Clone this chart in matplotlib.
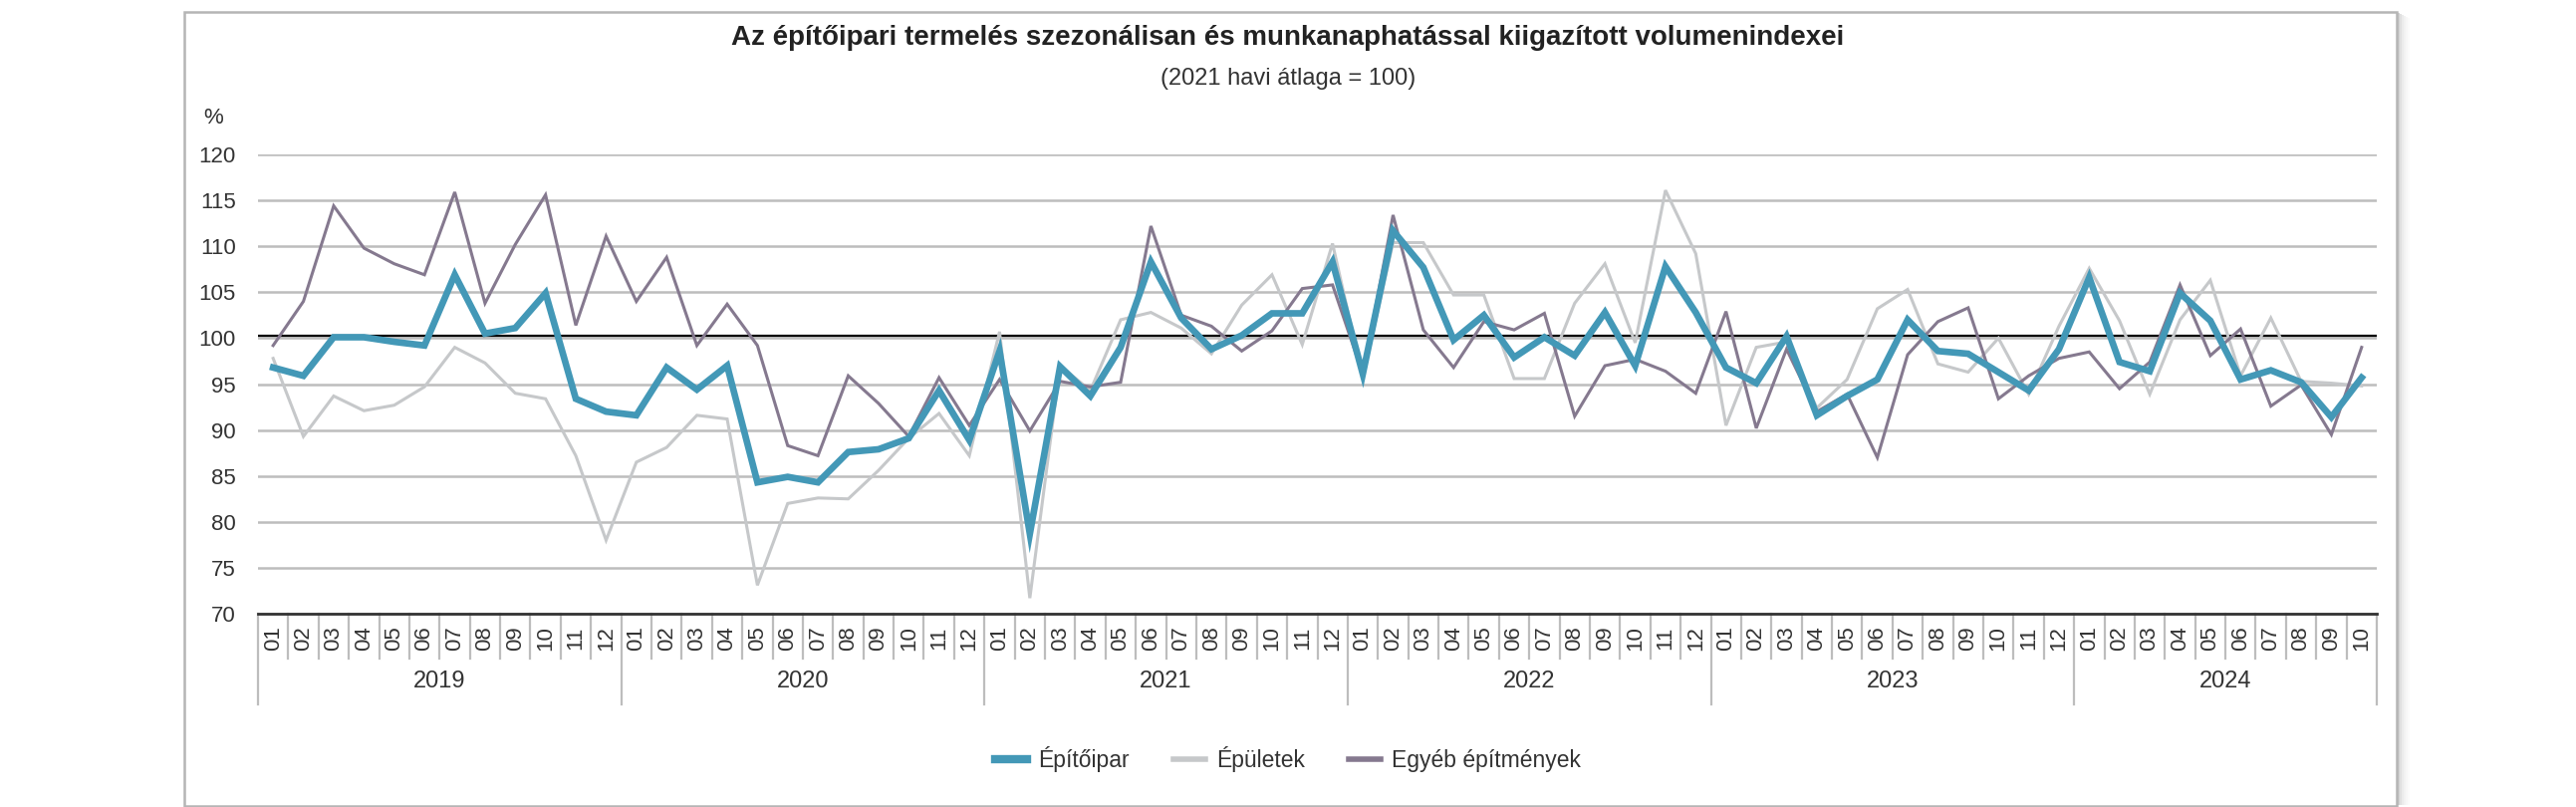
import matplotlib
matplotlib.use("Agg")
import matplotlib.pyplot as plt
import matplotlib.transforms as mtransforms
from matplotlib.patches import Rectangle
from matplotlib.lines import Line2D

plt.rcParams['font.family'] = ['Liberation Sans', 'DejaVu Sans']

years = ['2019', '2020', '2021', '2022', '2023', '2024']
months_per_year = [12, 12, 12, 12, 12, 10]
month_labels = ['01', '02', '03', '04', '05', '06', '07', '08', '09', '10', '11', '12']

epitoipar = [
    96.8, 95.9, 100.1, 100.1, 99.6, 99.2, 106.9, 100.5, 101.1, 104.9, 93.4, 92.0,
    91.6, 96.8, 94.4, 97.0, 84.3, 84.9, 84.3, 87.6, 87.9, 89.1, 94.3, 88.9,
    98.6, 78.7, 96.9, 93.7, 99.0, 108.3, 102.2, 98.8, 100.3, 102.7, 102.7, 108.3,
    96.1, 111.7, 107.7, 99.8, 102.5, 97.9, 100.1, 98.1, 102.8, 97.0, 107.8, 102.8,
    96.8, 95.1, 100.2, 91.6, 93.7, 95.5, 102.0, 98.6, 98.3, 96.3, 94.3, 98.8,
    106.6, 97.4, 96.4, 104.9, 101.9, 95.5, 96.5, 95.2, 91.4, 95.7]

epuletek = [
    97.8, 89.3, 93.7, 92.1, 92.7, 94.7, 99.0, 97.3, 94.0, 93.4, 87.2, 78.0,
    86.5, 88.1, 91.6, 91.2, 73.1, 82.0, 82.6, 82.5, 85.6, 89.1, 91.8, 87.2,
    100.7, 71.7, 97.0, 94.3, 102.0, 102.8, 101.1, 98.3, 103.6, 106.9, 99.3, 110.3,
    95.7, 110.4, 110.4, 104.7, 104.7, 95.6, 95.6, 103.8, 108.1, 99.5, 116.1, 109.2,
    90.5, 99.0, 99.6, 92.4, 95.5, 103.2, 105.3, 97.2, 96.3, 100.0, 93.9, 101.3,
    107.6, 101.9, 93.9, 102.0, 106.3, 95.9, 102.2, 95.3, 95.1, 94.8]

egyeb = [
    99.2, 104.0, 114.4, 109.8, 108.1, 106.9, 115.9, 103.8, 110.2, 115.6, 101.4, 111.1,
    104.0, 108.8, 99.2, 103.7, 99.2, 88.3, 87.2, 95.9, 92.9, 89.3, 95.7, 90.5,
    95.5, 89.9, 95.3, 94.7, 95.2, 112.2, 102.5, 101.3, 98.6, 100.8, 105.4, 105.8,
    96.1, 113.4, 100.9, 96.8, 101.8, 100.9, 102.7, 91.5, 97.0, 97.7, 96.4, 94.0,
    102.9, 90.2, 98.8, 92.0, 93.9, 87.0, 98.2, 101.8, 103.3, 93.4, 95.9, 97.8,
    98.5, 94.5, 97.4, 105.8, 98.1, 101.0, 92.6, 94.9, 89.5, 99.0]

series_names = ['Építőipar', 'Épületek', 'Egyéb építmények']
y_ticks = [70, 75, 80, 85, 90, 95, 100, 105, 110, 115, 120]

ticklabels = []
for n in months_per_year:
    ticklabels += month_labels[:n]
N = len(ticklabels)
x = list(range(N))

W, H = 2586, 810
fig = plt.figure(figsize=(W / 100, H / 100), dpi=100)
fig.patch.set_facecolor('white')

# frame with shadow
for i, a in enumerate([0.18, 0.12, 0.08, 0.05, 0.03, 0.015]):
    fig.patches.append(Rectangle(((2407 + i * 2) / W, 2 / H), 2 / W, (809 - 14 - i) / H,
                                 transform=fig.transFigure, facecolor='black', alpha=a,
                                 edgecolor='none'))
fig.patches.append(Rectangle((185 / W, 1 / H), (2406 - 185) / W, (809 - 12) / H,
                             transform=fig.transFigure, facecolor='none',
                             edgecolor='#b5b5b5', lw=1.8))

ax_left, ax_right = 259 / W, 2386 / W
ax_bottom, ax_top = (H - 616) / H, (H - 155) / H
ax = fig.add_axes([ax_left, ax_bottom, ax_right - ax_left, ax_top - ax_bottom])
ax_h_px = 616 - 155

txt = '#333333'
ax.plot(x, epuletek, color='#c6c8ca', lw=2.2, zorder=3, solid_joinstyle='miter')
ax.plot(x, egyeb, color='#85798f', lw=2.2, zorder=4, solid_joinstyle='miter')
ax.plot(x, epitoipar, color='#4398b7', lw=4.8, zorder=5, solid_joinstyle='miter')

ax.set_xlim(-0.5, N - 0.5)
ax.set_ylim(70, 120)
ax.set_yticks(y_ticks)
ax.set_xticks(x)
ax.set_xticklabels(ticklabels, rotation=90)
ax.tick_params(axis='x', length=0, pad=9, labelsize=16, colors=txt)
ax.tick_params(axis='y', length=0, pad=16, labelsize=16, colors=txt)
ax.yaxis.grid(True, color='#bdbdbd', lw=1.8)
ax.set_axisbelow(True)
for s in ['top', 'right', 'left']:
    ax.spines[s].set_visible(False)
ax.spines['bottom'].set_color('#333333')
ax.spines['bottom'].set_linewidth(2)
ax.spines['bottom'].set_zorder(6)

off = mtransforms.offset_copy(ax.transData, fig=fig, x=0, y=2, units='dots')
ax.plot([-0.5, N - 0.5], [100, 100], color='black', lw=1.6, transform=off, zorder=2)

# category separators
xt = ax.get_xaxis_transform()
short = -45 / ax_h_px
long_ = -91 / ax_h_px
boundaries = [0]
for n in months_per_year:
    boundaries.append(boundaries[-1] + n)
for i in range(N + 1):
    yl = long_ if i in boundaries else short
    ax.plot([i - 0.5, i - 0.5], [0, yl], transform=xt, color='#bdbdbd', lw=1.6,
            clip_on=False, zorder=1)
for k, yr in enumerate(years):
    c = (boundaries[k] + boundaries[k + 1] - 1) / 2
    ax.text(c, -(684 - 616) / ax_h_px, yr, transform=xt, ha='center', va='center',
            fontsize=17, color=txt)

fig.text(214 / W, 1 - 119 / H, '%', ha='center', va='center', fontsize=16, color=txt)
fig.text(0.5, 1 - 38 / H,
         'Az építőipari termelés szezonálisan és munkanaphatással kiigazított volumenindexei',
         ha='center', va='center', fontsize=20, fontweight='bold', color='#222222')
fig.text(0.5, 1 - 79 / H, '(2021 havi átlaga = 100)', ha='center', va='center',
         fontsize=17, color=txt, family=['Liberation Sans Narrow', 'Liberation Sans'])

handles = [Line2D([], [], color='#4398b7', lw=6),
           Line2D([], [], color='#c6c8ca', lw=4),
           Line2D([], [], color='#85798f', lw=4)]
leg = fig.legend(handles, series_names, loc='center', bbox_to_anchor=(0.5, 1 - 762 / H),
                 ncol=3, frameon=False, fontsize=16.5, handlelength=1.4,
                 handletextpad=0.5, columnspacing=1.9)
for t in leg.get_texts():
    t.set_color(txt)

fig.savefig('out.png', dpi=100, facecolor='white')
